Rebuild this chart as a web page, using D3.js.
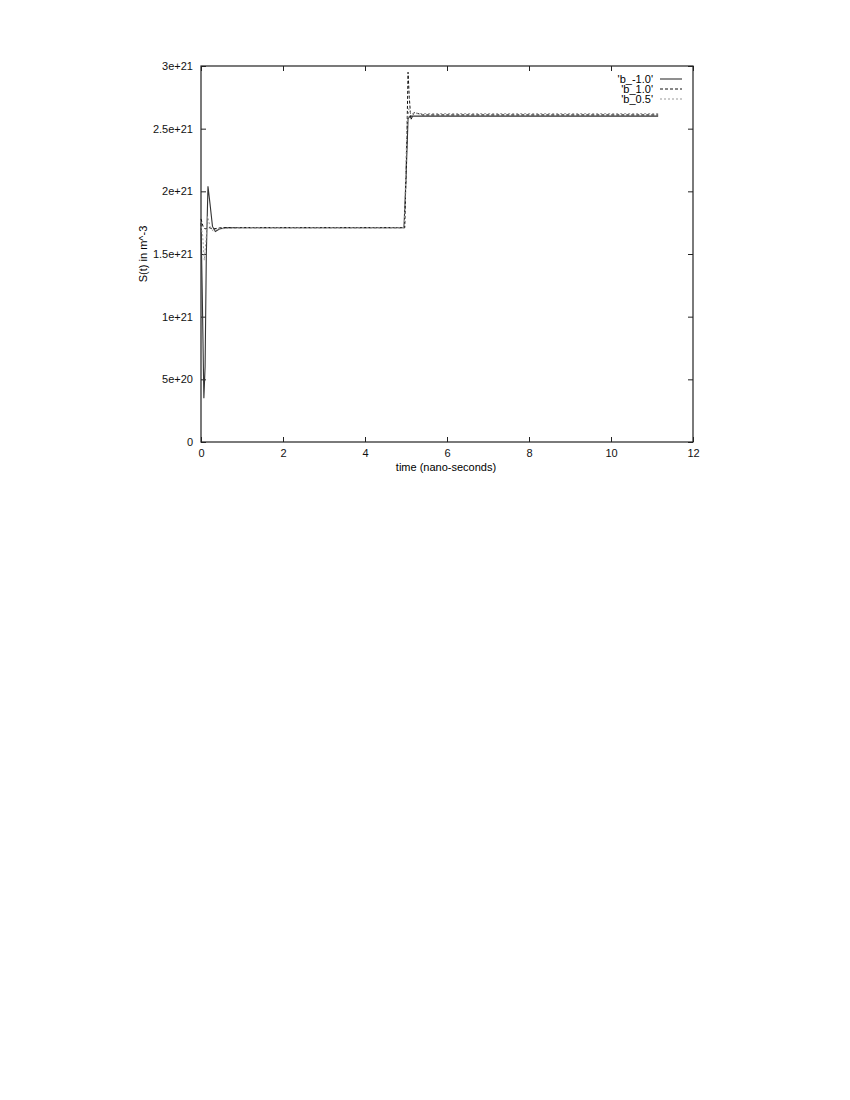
<!DOCTYPE html>
<html>
<head>
<meta charset="utf-8">
<script src="https://cdn.jsdelivr.net/npm/d3@7"></script>
<style>
  body { margin: 0; background: #fff; }
  svg { font-family: "Liberation Sans", Arial, sans-serif; }
  .tick text { font-size: 11px; fill: #111; }
</style>
</head>
<body>
<div id="chart"></div>
<script>
// series (time in ns, S in units of 1e21 m^-3)
const tMinus1 = [0, 0.03, 0.07, 0.1, 0.13, 0.17, 0.22, 0.28, 0.35, 0.45, 0.6, 1, 4.95, 5.0, 5.05, 5.1, 5.2, 6, 11.15];
const sMinus1 = [1.75, 1.2, 0.35, 0.6, 1.5, 2.04, 1.9, 1.72, 1.68, 1.7, 1.71, 1.71, 1.71, 2.1, 2.58, 2.6, 2.6, 2.6, 2.6];

const tPlus1 = [0, 0.05, 0.1, 0.2, 0.3, 0.5, 1, 4.97, 5.02, 5.05, 5.08, 5.12, 5.2, 5.4, 11.15];
const sPlus1 = [1.78, 1.72, 1.7, 1.71, 1.7, 1.71, 1.71, 1.71, 2.4, 2.95, 2.75, 2.57, 2.63, 2.61, 2.61];

const tHalf = [0, 0.04, 0.08, 0.12, 0.16, 0.22, 0.3, 0.4, 1, 4.96, 5.02, 5.07, 5.12, 5.2, 11.15];
const sHalf = [1.72, 1.65, 1.45, 1.6, 1.8, 1.72, 1.68, 1.7, 1.71, 1.71, 2.5, 2.66, 2.62, 2.62, 2.62];

const seriesNames = ["'b_-1.0'", "'b_1.0'", "'b_0.5'"];
const xTicks = [0, 2, 4, 6, 8, 10, 12];
const yTicks = [0, 0.5, 1, 1.5, 2, 2.5, 3];
const yTickLabels = ['0', '5e+20', '1e+21', '1.5e+21', '2e+21', '2.5e+21', '3e+21'];

const width = 850;
const height = 1100;
const margin = { top: 66, right: 157, bottom: 658, left: 201 };

const usableArea = {
  top: margin.top,
  right: width - margin.right,
  bottom: height - margin.bottom,
  left: margin.left,
};

const svg = d3.select('#chart')
  .append('svg')
  .attr('width', width)
  .attr('height', height);

const xScale = d3.scaleLinear().domain([0, 12]).range([usableArea.left, usableArea.right]);
const yScale = d3.scaleLinear().domain([0, 3]).range([usableArea.bottom, usableArea.top]);

// frame
svg.append('rect')
  .attr('x', usableArea.left)
  .attr('y', usableArea.top)
  .attr('width', usableArea.right - usableArea.left)
  .attr('height', usableArea.bottom - usableArea.top)
  .attr('fill', 'none')
  .attr('stroke', '#222')
  .attr('stroke-width', 1.2);

// axes with inward ticks (gnuplot style), mirrored on top/right
const xAxis = d3.axisBottom(xScale).tickValues(xTicks).tickSize(-5).tickPadding(7);
svg.append('g')
  .attr('transform', `translate(0, ${usableArea.bottom})`)
  .call(xAxis)
  .call((g) => g.select('.domain').remove());

svg.append('g')
  .attr('transform', `translate(0, ${usableArea.top})`)
  .call(d3.axisTop(xScale).tickValues(xTicks).tickSize(-5).tickFormat(''))
  .call((g) => g.select('.domain').remove());

const yAxis = d3.axisLeft(yScale)
  .tickValues(yTicks)
  .tickSize(-5)
  .tickPadding(8)
  .tickFormat((d, i) => yTickLabels[i]);
svg.append('g')
  .attr('transform', `translate(${usableArea.left}, 0)`)
  .call(yAxis)
  .call((g) => g.select('.domain').remove());

svg.append('g')
  .attr('transform', `translate(${usableArea.right}, 0)`)
  .call(d3.axisRight(yScale).tickValues(yTicks).tickSize(-5).tickFormat(''))
  .call((g) => g.select('.domain').remove());

svg.selectAll('.tick line').attr('stroke', '#222');

// axis labels
svg.append('text')
  .attr('x', 446)
  .attr('y', 471)
  .attr('text-anchor', 'middle')
  .style('font-size', '11px')
  .text('time (nano-seconds)');

svg.append('text')
  .attr('transform', `translate(147, ${(usableArea.top + usableArea.bottom) / 2}) rotate(-90)`)
  .attr('text-anchor', 'middle')
  .style('font-size', '11px')
  .text('S(t) in m^-3');

// lines
const series = [
  { name: seriesNames[0], t: tMinus1, s: sMinus1, color: '#333', dash: null, w: 1.1 },
  { name: seriesNames[1], t: tPlus1, s: sPlus1, color: '#111', dash: '3,2', w: 1 },
  { name: seriesNames[2], t: tHalf, s: sHalf, color: '#999', dash: '2,2', w: 1 },
];

const line = d3.line()
  .x((d) => xScale(d[0]))
  .y((d) => yScale(d[1]));

svg.append('g')
  .selectAll('path')
  .data(series)
  .join('path')
  .attr('d', (d) => line(d3.zip(d.t, d.s)))
  .attr('fill', 'none')
  .attr('stroke', (d) => d.color)
  .attr('stroke-width', (d) => d.w)
  .attr('stroke-dasharray', (d) => d.dash);

// legend
const legend = svg.append('g');
series.forEach((d, i) => {
  const y = 79 + i * 10;
  legend.append('text')
    .attr('x', 653)
    .attr('y', y + 4)
    .attr('text-anchor', 'end')
    .style('font-size', '11px')
    .text(d.name);
  legend.append('line')
    .attr('x1', 660)
    .attr('x2', 682)
    .attr('y1', y)
    .attr('y2', y)
    .attr('stroke', d.color)
    .attr('stroke-width', d.w)
    .attr('stroke-dasharray', d.dash);
});
</script>
</body>
</html>
